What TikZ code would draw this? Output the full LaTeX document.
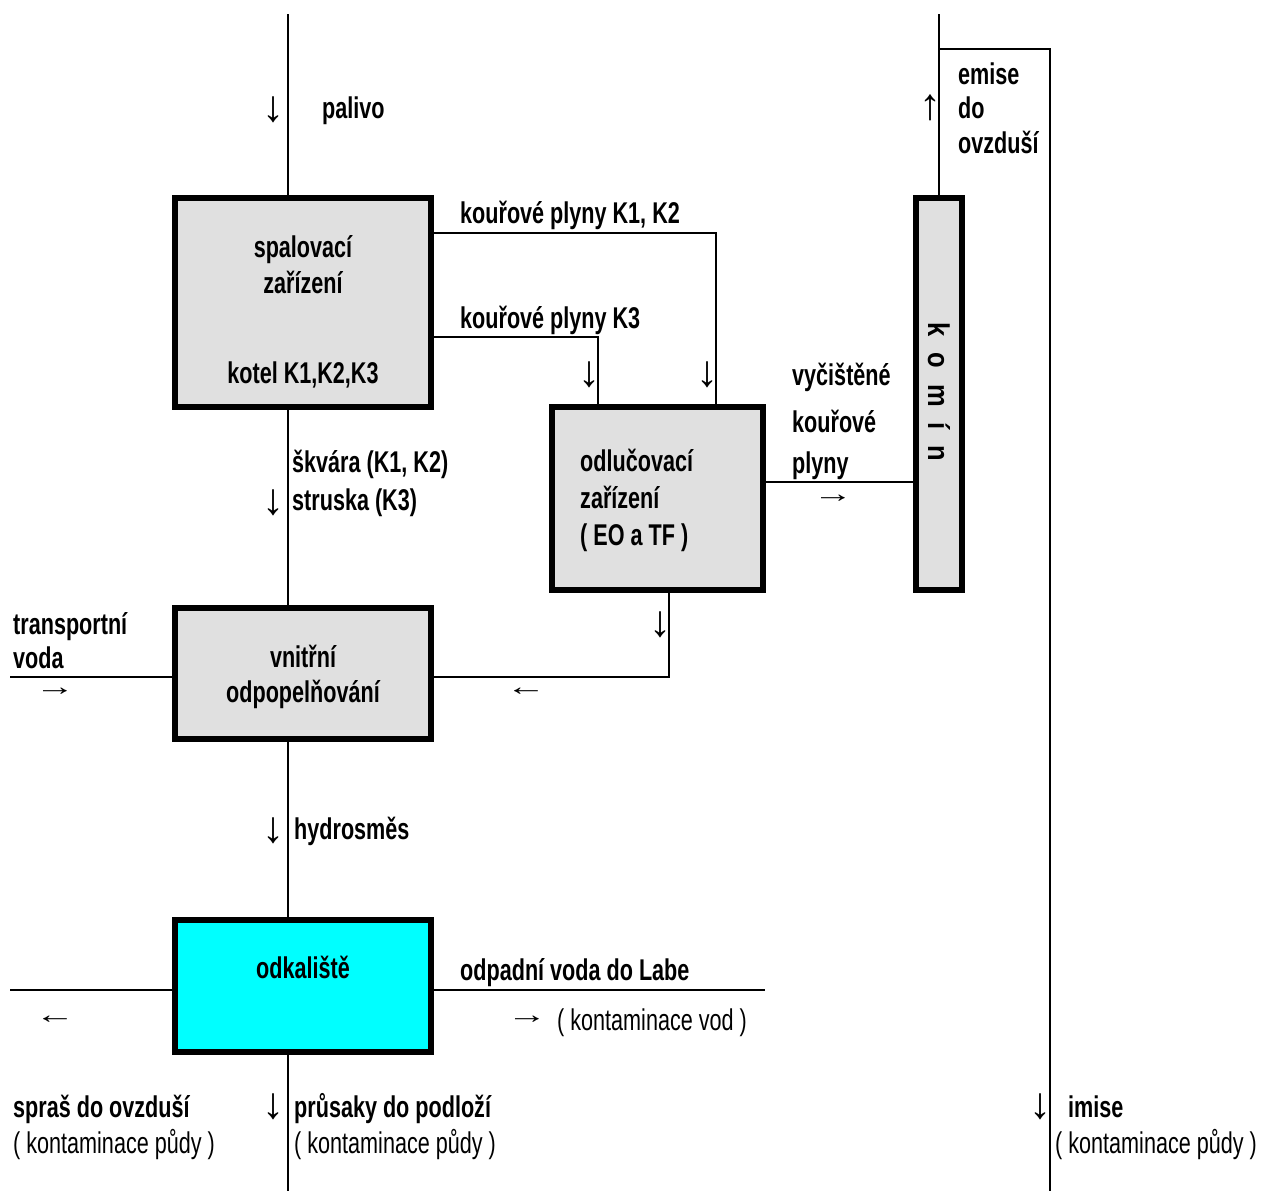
\documentclass[tikz,border=0pt]{standalone}
\usepackage{fontspec}
\setmainfont{Liberation Sans}[FakeStretch=0.72]
\newfontfamily\arrowfont{Liberation Sans}
\newfontfamily\komfont{Liberation Sans}[FakeStretch=0.85]
\newcommand{\harrow}[1]{\scalebox{1.55}[1.0]{#1}}
\begin{document}
\begin{tikzpicture}[x=1pt,y=-1pt,
  box/.style={draw=black, line width=6pt, inner sep=0pt, fill=boxgray},
  ln/.style={draw=black, line width=1.6pt},
  lb/.style={font=\fontsize{30}{36}\selectfont\bfseries, inner sep=0pt, anchor=mid west, yshift=-8pt},
  lbc/.style={font=\fontsize{30}{36}\selectfont\bfseries, inner sep=0pt, anchor=mid, yshift=-8pt},
  lbn/.style={font=\fontsize{30}{36}\selectfont, inner sep=0pt, anchor=mid west, yshift=-8pt},
  arr/.style={font=\arrowfont\fontsize{44}{44}\selectfont, inner xsep=-9pt, inner ysep=-11pt, anchor=center},
  harr/.style={font=\arrowfont\fontsize{26}{26}\selectfont, inner sep=0pt, anchor=center}]
\definecolor{boxgray}{HTML}{E0E0E0}
\definecolor{pondcyan}{HTML}{00FFFF}
\useasboundingbox (0,0) rectangle (1263,1191);
\fill[white] (0,0) rectangle (1263,1191);

% boxes
\node[box, minimum width=256pt, minimum height=209pt] (spal) at (303,302.5) {};
\node[box, minimum width=211pt, minimum height=183pt] (odl) at (657.5,498.5) {};
\node[box, minimum width=46pt, minimum height=392pt] (kom) at (939,394) {};
\node[box, minimum width=256pt, minimum height=131pt] (vn) at (303,673.5) {};
\node[box, fill=pondcyan, minimum width=256pt, minimum height=132pt] (odk) at (303,986) {};

% free ends
\coordinate (ptop) at (288,14);
\coordinate (pbot) at (288,1191);
\coordinate (ktop) at (939,14);
\coordinate (kcorner) at (939,49);
\coordinate (rcorner) at (1050,49);
\coordinate (rbot) at (1050,1191);
\coordinate (k12) at (716,233);
\coordinate (k3) at (598,337);
\coordinate (odlout) at (669,677);
\coordinate (twater) at (10,677);
\coordinate (leftout) at (10,990);
\coordinate (rightout) at (765,990);

% main vertical line
\draw[ln] (ptop) -- (ptop |- spal.north);
\draw[ln] (ptop |- spal.south) -- (ptop |- vn.north);
\draw[ln] (ptop |- vn.south) -- (ptop |- odk.north);
\draw[ln] (ptop |- odk.south) -- (pbot);

% flue gas
\draw[ln] (spal.east |- k12) -- (k12) -- (k12 |- odl.north);
\draw[ln] (spal.east |- k3) -- (k3) -- (k3 |- odl.north);
\draw[ln] (odl.east |- 0,482) -- (kom.west |- 0,482);

% chimney and emissions
\draw[ln] (kom.north) -- (ktop);
\draw[ln] (kcorner) -- (rcorner) -- (rbot);

% ash / water
\draw[ln] (odlout |- odl.south) -- (odlout) -- (vn.east |- odlout);
\draw[ln] (twater) -- (vn.west |- twater);
\draw[ln] (leftout) -- (odk.west |- leftout);
\draw[ln] (odk.east |- rightout) -- (rightout);

% komin text
\node[font=\komfont\fontsize{30}{36}\selectfont\bfseries, inner sep=0pt, rotate=-90] (komtxt) at (939,392) {\spaceskip=16pt k o m í n};

% texts in boxes
\node[lbc] (t1) at (303,247) {spalovací};
\node[lbc] (t2) at (303,283) {zařízení};
\node[lbc] (t3) at (303,373) {kotel K1,K2,K3};
\node[lb] (t4) at (580,461) {odlučovací};
\node[lb] (t5) at (580,498) {zařízení};
\node[lb] (t6) at (580,535) {( EO a TF )};
\node[lbc] (t7) at (303,657) {vnitřní};
\node[lbc] (t8) at (303,692) {odpopelňování};
\node[lbc] (t9) at (303,968) {odkaliště};

% labels
\node[arr] (a1) at (273,110) {↓};
\node[lb] (l1) at (322,108) {palivo};
\node[lb] (l2) at (460,213) {kouřové plyny K1, K2};
\node[lb] (l3) at (460,318) {kouřové plyny K3};
\node[arr] (a2) at (589,375) {↓};
\node[arr] (a3) at (707,375) {↓};
\node[lb] (l4) at (792,375) {vyčištěné};
\node[lb] (l5) at (792,422) {kouřové};
\node[lb] (l6) at (792,463) {plyny};
\node[harr] (a4) at (833,499) {\harrow{→}};
\node[arr] (a5) at (930,108) {↑};
\node[lb] (l7) at (958,74) {emise};
\node[lb] (l8) at (958,108) {do};
\node[lb] (l9) at (958,143) {ovzduší};
\node[lb] (l10) at (292,462) {škvára (K1, K2)};
\node[lb] (l11) at (292,500) {struska (K3)};
\node[arr] (a6) at (273,503) {↓};
\node[arr] (a7) at (660,625) {↓};
\node[harr] (a8) at (526,692) {\harrow{←}};
\node[lb] (l12) at (13,624) {transportní};
\node[lb] (l13) at (13,658) {voda};
\node[harr] (a9) at (55,692) {\harrow{→}};
\node[arr] (a10) at (273,831) {↓};
\node[lb] (l14) at (294,829) {hydrosměs};
\node[harr] (a11) at (55,1020) {\harrow{←}};
\node[lb] (l15) at (460,970) {odpadní voda do Labe};
\node[harr] (a12) at (527,1020) {\harrow{→}};
\node[lbn] (l16) at (557,1020) {( kontaminace vod )};
\node[lb] (l17) at (13,1107) {spraš do ovzduší};
\node[lbn] (l18) at (13,1143) {( kontaminace půdy )};
\node[arr] (a13) at (273,1107) {↓};
\node[lb] (l19) at (294,1107) {průsaky do podloží};
\node[lbn] (l20) at (294,1143) {( kontaminace půdy )};
\node[arr] (a14) at (1040,1107) {↓};
\node[lb] (l21) at (1068,1107) {imise};
\node[lbn] (l22) at (1055,1143) {( kontaminace půdy )};
\end{tikzpicture}
\end{document}
